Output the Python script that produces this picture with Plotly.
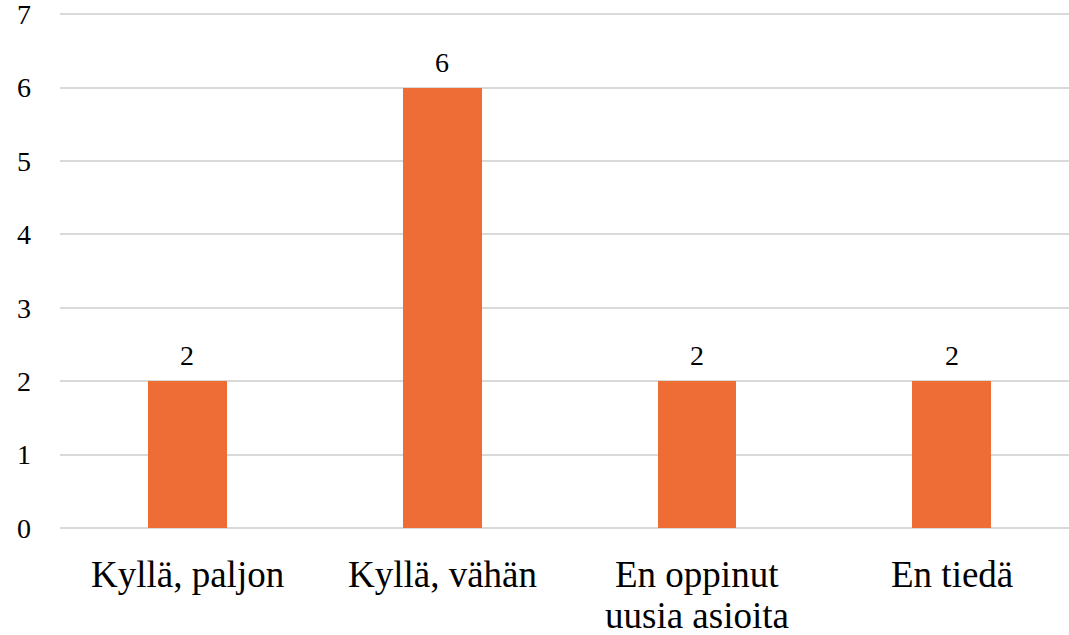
import plotly.graph_objects as go

categories = ["Kyllä, paljon", "Kyllä, vähän", "En oppinut uusia asioita", "En tiedä"]
label_lines = [["Kyllä, paljon"], ["Kyllä, vähän"], ["En oppinut", "uusia asioita"], ["En tiedä"]]
values = [2, 6, 2, 2]
y_ticks = [0, 1, 2, 3, 4, 5, 6, 7]

SERIF = "Liberation Serif"

fig = go.Figure(go.Bar(
    x=list(range(len(categories))),
    y=values,
    width=0.31,
    marker=dict(color="#ED6D35", line=dict(width=0)),
    cliponaxis=False,
    hovertext=categories,
))

# value labels above bars
for i, v in enumerate(values):
    fig.add_annotation(
        x=i, xref="x", y=v, yref="y",
        text=str(v), showarrow=False,
        yanchor="bottom", xanchor="center", yshift=8,
        font=dict(family=SERIF, size=28, color="#000000"),
    )

# category labels below the axis
for i, lines in enumerate(label_lines):
    for j, line in enumerate(lines):
        fig.add_annotation(
            x=i, xref="x", y=0, yref="paper",
            text=line, showarrow=False,
            yanchor="middle", xanchor="center",
            yshift=-46 - 41 * j,
            font=dict(family=SERIF, size=37, color="#000000"),
        )

fig.update_layout(
    width=1069, height=635,
    margin=dict(l=60, r=0, t=13, b=107),
    paper_bgcolor="white", plot_bgcolor="white",
    showlegend=False,
    bargap=0,
    xaxis=dict(
        range=[-0.5, 3.46],
        tickmode="array",
        tickvals=list(range(len(categories))),
        showticklabels=False,
        showgrid=False, zeroline=False, showline=False,
        ticks="", automargin=False,
    ),
    yaxis=dict(
        range=[0, 7.015],
        tickmode="array",
        tickvals=y_ticks,
        ticktext=[str(t) for t in y_ticks],
        tickfont=dict(family=SERIF, size=28, color="#000000"),
        showgrid=True, gridcolor="#D9D9D9", gridwidth=1.5,
        zeroline=True, zerolinecolor="#D9D9D9", zerolinewidth=1.5,
        showline=False, ticks="", ticklabelstandoff=28, automargin=False,
        ticklabeloverflow="allow",
    ),
)

fig.write_html(
    "out.html",
    config={"displayModeBar": False},
    post_script="document.body.style.margin='0';document.body.style.overflow='hidden';",
)
